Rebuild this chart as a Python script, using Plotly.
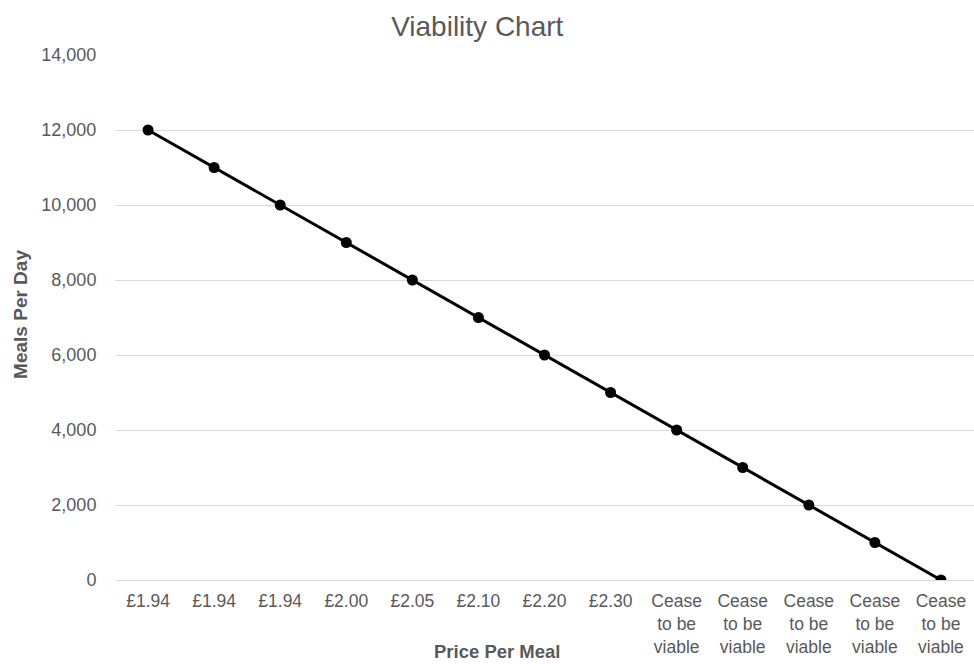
import plotly.graph_objects as go

# Price points and the meals-per-day needed at each
price_labels = ["£1.94", "£1.94", "£1.94", "£2.00", "£2.05", "£2.10", "£2.20", "£2.30",
                "Cease<br>to be<br>viable", "Cease<br>to be<br>viable", "Cease<br>to be<br>viable",
                "Cease<br>to be<br>viable", "Cease<br>to be<br>viable"]
meals_per_day = [12000, 11000, 10000, 9000, 8000, 7000, 6000, 5000, 4000, 3000, 2000, 1000, 0]
y_ticks = [0, 2000, 4000, 6000, 8000, 10000, 12000, 14000]

positions = list(range(len(price_labels)))

font_family = "Liberation Sans, Arial, sans-serif"
grey = "#595959"

fig = go.Figure()
fig.add_trace(go.Scatter(
    x=positions,
    y=meals_per_day,
    mode="lines+markers",
    line=dict(color="#000000", width=3),
    marker=dict(color="#000000", size=11),
    showlegend=False,
))

fig.update_layout(
    width=974,
    height=664,
    margin=dict(l=115, r=0, t=55, b=84),
    paper_bgcolor="white",
    plot_bgcolor="white",
    font=dict(family=font_family, color=grey, size=18),
    title=dict(text="Viability Chart", x=0.49, xanchor="center", y=0.961, yanchor="middle",
               font=dict(size=28, color=grey, family=font_family)),
    xaxis=dict(
        tickmode="array",
        tickvals=positions,
        ticktext=price_labels,
        range=[-0.5, len(price_labels) - 0.5],
        showgrid=False,
        zeroline=False,
        showline=False,
        ticks="outside",
        ticklen=5,
        tickcolor="rgba(0,0,0,0)",
        tickfont=dict(size=17.5, color=grey),
        fixedrange=True,
    ),
    yaxis=dict(
        tickmode="array",
        tickvals=y_ticks,
        tickformat=",",
        range=[0, 14000],
        showgrid=True,
        gridcolor="#d9d9d9",
        gridwidth=1,
        zeroline=True,
        zerolinecolor="#d9d9d9",
        zerolinewidth=1,
        showline=False,
        ticks="outside",
        ticklen=14,
        tickcolor="rgba(0,0,0,0)",
        tickfont=dict(size=18, color=grey),
        fixedrange=True,
    ),
)

fig.add_annotation(
    text="<b>Meals Per Day</b>", xref="paper", yref="paper",
    x=(21 - 115) / 859, y=0.505, textangle=-90, showarrow=False,
    xanchor="center", yanchor="middle",
    font=dict(size=19, color=grey, family=font_family),
)
fig.add_annotation(
    text="<b>Price Per Meal</b>", xref="paper", yref="paper",
    x=(497 - 115) / 859, y=(580 - 651) / 525, showarrow=False,
    xanchor="center", yanchor="middle",
    font=dict(size=18.5, color=grey, family=font_family),
)

fig.write_html("out.html")
